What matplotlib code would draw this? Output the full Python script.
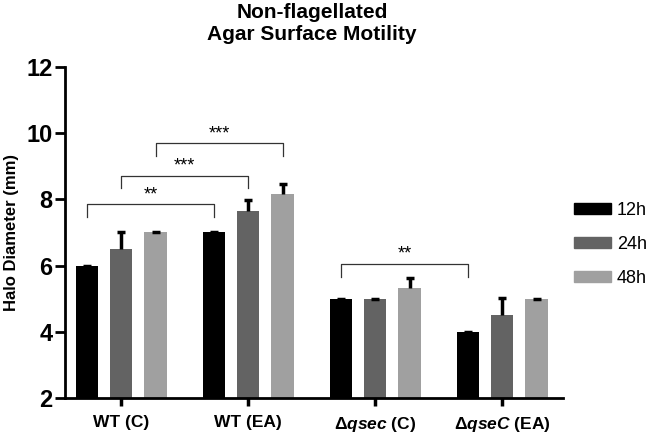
import numpy as np
import matplotlib.pyplot as plt
from matplotlib.patches import Patch

plt.rcParams['font.family'] = ['Liberation Sans', 'DejaVu Sans']
plt.rcParams['mathtext.fontset'] = 'custom'
plt.rcParams['mathtext.rm'] = 'Liberation Sans:bold'
plt.rcParams['mathtext.it'] = 'Liberation Sans:bold:italic'

# data
groups = ['WT (C)', 'WT (EA)', r'$\Delta\mathit{qsec}$ (C)', r'$\Delta\mathit{qseC}$ (EA)']
times = ['12h', '24h', '48h']
vals_12h = [6.0, 7.0, 5.0, 4.0]
vals_24h = [6.5, 7.65, 4.98, 4.5]
vals_48h = [7.0, 8.15, 5.32, 5.0]
err_12h = [0.0, 0.0, 0.0, 0.0]
err_24h = [0.5, 0.32, 0.0, 0.52]
err_48h = [0.0, 0.31, 0.32, 0.0]
colors = ['#000000', '#636363', '#a0a0a0']

# significance brackets: (group, bar) start, (group, bar) end, height, label
brackets = [((0, 0), (1, 0), 7.85, '**'),
            ((0, 1), (1, 1), 8.72, '***'),
            ((0, 2), (1, 2), 9.70, '***'),
            ((2, 0), (3, 0), 6.05, '**')]

fig = plt.figure(figsize=(6.49, 4.36), dpi=100)
ax = fig.add_axes([0.1002, 0.0872, 0.7673, 0.7591])

x = np.arange(len(groups))
width = 0.18
offsets = [-0.268, 0.0, 0.272]
series = [vals_12h, vals_24h, vals_48h]
errs = [err_12h, err_24h, err_48h]

for i in range(3):
    pos = x + offsets[i]
    v = np.array(series[i])
    e = np.array(errs[i])
    ax.bar(pos, v, width, color=colors[i], zorder=2)
    # upper error bars only, with a thin cap even when error is ~0
    ax.vlines(pos, v, v + e, color='black', lw=2.5, zorder=3)
    ax.hlines(v + e, pos - 0.032, pos + 0.032, color='black', lw=2.5, zorder=3)

for (g1, b1), (g2, b2), h, lab in brackets:
    x1 = g1 + offsets[b1]
    x2 = g2 + offsets[b2]
    ax.plot([x1, x1, x2, x2], [h - 0.38, h, h, h - 0.38], color='#333333', lw=0.9, zorder=4)
    ax.text((x1 + x2) / 2, h + 0.03, lab, ha='center', va='bottom', fontsize=13, zorder=4)

ax.set_ylim(2, 12)
ax.set_xlim(-0.441, 3.48)
ax.set_yticks([2, 4, 6, 8, 10, 12])
ax.set_xticks(x)
ax.set_xticklabels(groups, fontsize=12.5, fontweight='bold')
for lbl in ax.get_yticklabels():
    lbl.set_fontsize(17)
    lbl.set_fontweight('bold')
ax.tick_params(axis='y', length=7, width=2, pad=2)
ax.tick_params(axis='x', length=6, width=2.5, pad=6)
ax.spines['top'].set_visible(False)
ax.spines['right'].set_visible(False)
ax.spines['left'].set_linewidth(2)
ax.spines['bottom'].set_linewidth(2)
ax.set_ylabel('Halo Diameter (mm)', fontsize=12, fontweight='bold', labelpad=5)

fig.text(0.481, 0.993, 'Non-flagellated\nAgar Surface Motility', ha='center', va='top',
         fontsize=15, fontweight='bold', linespacing=1.2)

handles = [Patch(color=c) for c in colors]
fig.legend(handles, times, loc='center left', bbox_to_anchor=(0.86, 0.44),
           frameon=False, fontsize=13, handlelength=2.0, handleheight=0.55,
           labelspacing=0.95, handletextpad=0.35)

fig.savefig('out.png', dpi=100)
